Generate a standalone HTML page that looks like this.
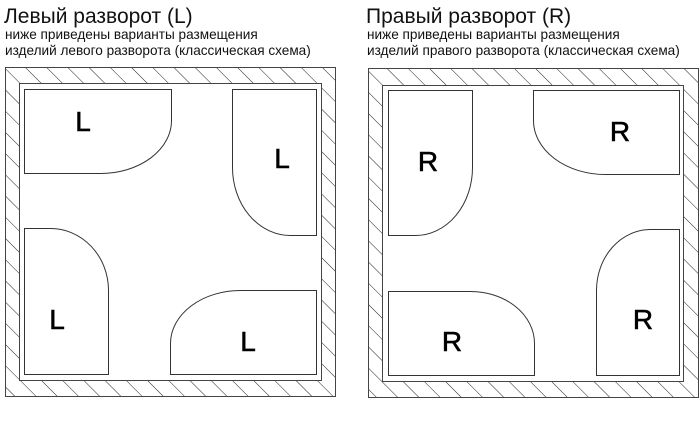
<!DOCTYPE html>
<html><head><meta charset="utf-8"><style>
html,body{margin:0;padding:0;background:#fff;width:700px;height:427px;overflow:hidden}
svg{display:block}
</style></head><body>
<svg width="700" height="427" viewBox="0 0 700 427" xmlns="http://www.w3.org/2000/svg">
<defs>
<pattern id="h" patternUnits="userSpaceOnUse" width="15" height="15" patternTransform="rotate(-45)">
<line x1="0" y1="0" x2="0" y2="15" stroke="#222" stroke-width="1"/>
</pattern>
</defs>
<g font-family="Liberation Sans, sans-serif" fill="#111">
<text x="4" y="23" font-size="21">Левый разворот (L)</text>
<text x="5" y="39" font-size="13.6">ниже приведены варианты размещения</text>
<text x="5" y="55" font-size="13.6">изделий левого разворота (классическая схема)</text>
<text x="366" y="23" font-size="21">Правый разворот (R)</text>
<text x="367" y="39" font-size="13.6">ниже приведены варианты размещения</text>
<text x="367" y="55" font-size="13.6">изделий правого разворота (классическая схема)</text>
</g>
<g stroke="#444" stroke-width="1">
<rect x="5.5" y="67.5" width="330" height="329" fill="url(#h)"/>
<rect x="19.5" y="83.5" width="302" height="297" fill="#fff"/>
<rect x="368.5" y="68.5" width="330" height="329" fill="url(#h)"/>
<rect x="382.5" y="85.5" width="301" height="296" fill="#fff"/>
</g>
<g stroke="#333" stroke-width="1" fill="#fff">
<path d="M24.5 89.5 H171.5 V120 A71 53 0 0 1 100.5 173.5 H24.5 Z"/>
<path d="M316.5 89.5 H232.5 V167 A58 68 0 0 0 290.5 235.5 H316.5 Z"/>
<path d="M24.5 374.5 V228.5 H50 A58 62 0 0 1 108.5 290 V374.5 Z"/>
<path d="M316.5 374.5 H170.5 V343 A70 53 0 0 1 240.5 290.5 H316.5 Z"/>
<path d="M388.5 90.5 H472.5 V167 A57 68 0 0 1 415.5 235.5 H388.5 Z"/>
<path d="M679.5 90.5 H533.5 V120 A72 54 0 0 0 605.5 174.5 H679.5 Z"/>
<path d="M388.5 375.5 V291.5 H470 A64 52 0 0 1 534.5 343 V375.5 Z"/>
<path d="M679.5 375.5 V229.5 H650 A54 61 0 0 0 596.5 290 V375.5 Z"/>
</g>
<g font-family="Liberation Sans, sans-serif" font-size="28" fill="#000" stroke="#000" stroke-width="0.6" text-anchor="middle">
<text x="83" y="131">L</text>
<text x="282" y="168">L</text>
<text x="57" y="329">L</text>
<text x="248" y="351">L</text>
<text x="428" y="171">R</text>
<text x="620" y="141">R</text>
<text x="452" y="351">R</text>
<text x="643" y="329">R</text>
</g>
</svg>
</body></html>
